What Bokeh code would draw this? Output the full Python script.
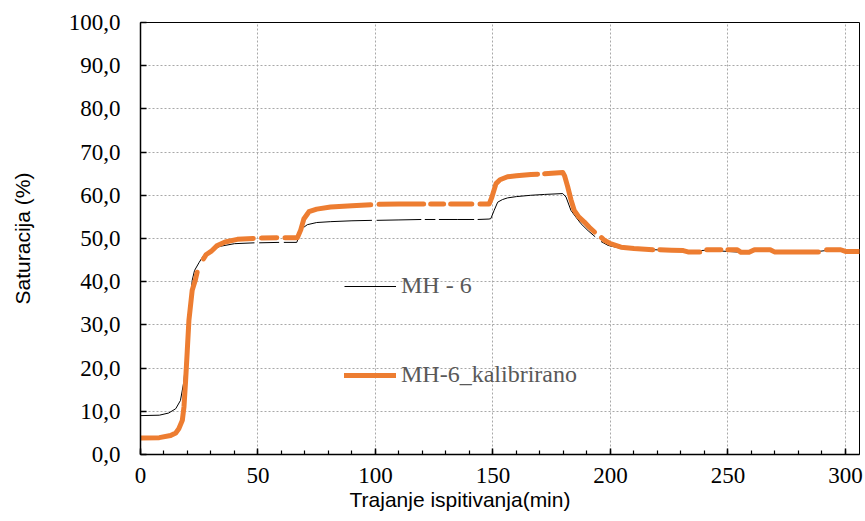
import numpy as np
from bokeh.plotting import figure
from bokeh.models import (Range1d, Legend, LegendItem, CustomJSTickFormatter,
                          SingleIntervalTicker, Title)
from bokeh.embed import file_html
from bokeh.resources import INLINE

N = np.nan

# MH - 6 (time in min, saturation in %), NaN = missing samples
t_mh6 = [0, 8, 12, 15, 17, 18.5, 19.5, 20.5, 22, 23, 25, 27, 30, 34, 40, 48.5, N,
         50.5, 59, N, 61, 66.5, 67.5, 69, 71, 75, 81, 90, 98.5, N,
         100.5, 110, 119.5, N, 121, 125.5, N, 127, 135, 142, N,
         143.5, 148.3, 149.1, 150.5, 152, 154, 156.2, 160, 166, 172, 179.7, 181.1, 183.2,
         185.5, 187.5, 190.5, 193.5, N,
         196, 199, 204.5, 210, 218, 226, 233, 241, 256, 262, 270, 287, 293, 301, 306]
s_mh6 = [9.0, 9.1, 9.6, 10.6, 12.5, 17.0, 24.0, 31.0, 40.3, 42.6, 44.5, 46.2, 47.4, 48.2, 48.8, 49.0, N,
         49.0, 49.1, N, 49.1, 49.1, 50.5, 52.4, 53.2, 53.7, 53.9, 54.1, 54.2, N,
         54.2, 54.3, 54.4, N, 54.4, 54.4, N, 54.4, 54.4, 54.4, N,
         54.4, 54.5, 54.6, 56.5, 58.4, 59.0, 59.4, 59.7, 60.0, 60.2, 60.4, 59.6, 56.5,
         54.8, 53.4, 51.8, 50.4, N,
         49.3, 48.4, 47.7, 47.5, 47.4, 47.3, 47.0, 47.3, 46.8, 47.3, 46.9, 46.9, 47.3, 47.0, 47.0]

# MH-6_kalibrirano
t_kal = [0, 8, 12.8, 15, 16.3, 17.8, 18.5, 19.2, 19.9, 20.6, 22, 23.4, 24.1, N,
         26.8, 28, 30, 32.7, 36, 41.2, 48, N, 51.5, 58, N,
         61.5, 66.8, 68.2, 69.5, 71.7, 75, 80.9, 90, 98, N,
         101.5, 110, 120.5, N, 123.5, 129, N, 132, 141, N,
         144.5, 148.4, 149.5, 151.3, 153, 156.2, 160, 166.2, 169, N,
         172, 179.7, 180.5, 181.8, 183.2, 184.6, 186.5, 188.9, 191, 193.2, N,
         196.2, 197.4, 200, 204.5, 210, 218, N, 221, 226, 231, 233, 238, N, 241, 247, N,
         250, 254, 255.6, 259, 261.3, 268, 269.8, 280, 288.5, N, 292, 298, 300, 306]
s_kal = [3.8, 3.9, 4.4, 5.0, 5.95, 7.9, 11.0, 17.1, 24.0, 31.0, 38.0, 40.5, 42.2, N,
         45.3, 46.3, 47.0, 48.4, 49.2, 49.8, 50.0, N, 50.1, 50.2, N,
         50.2, 50.2, 52.0, 54.5, 56.2, 56.8, 57.3, 57.6, 57.8, N,
         57.9, 58.0, 58.0, N, 58.0, 58.0, N, 58.0, 58.0, N,
         58.0, 58.0, 59.5, 62.7, 63.6, 64.3, 64.5, 64.8, 64.9, N,
         65.0, 65.3, 64.5, 62.0, 59.0, 56.5, 55.0, 53.8, 52.6, 51.5, N,
         50.2, 49.6, 48.8, 48.0, 47.7, 47.4, N, 47.4, 47.3, 47.2, 46.9, 46.9, N, 47.4, 47.4, N,
         47.4, 47.4, 46.8, 46.8, 47.4, 47.4, 46.9, 46.9, 46.9, N, 47.4, 47.4, 47.0, 47.0]

series_names = ["MH - 6", "MH-6_kalibrirano"]
x_title = "Trajanje ispitivanja(min)"
y_title = "Saturacija (%)"

p = figure(width=865, height=521, output_backend="svg", toolbar_location=None,
           x_range=Range1d(0, 306), y_range=Range1d(0, 100),
           min_border_left=140, min_border_right=6, min_border_top=22, min_border_bottom=67)
p.background_fill_color = "white"
p.border_fill_color = "white"
p.outline_line_color = "black"
p.outline_line_width = 1

r1 = p.line(t_mh6, s_mh6, line_color="black", line_width=1)
r2 = p.line(t_kal, s_kal, line_color="#ED7D31", line_width=5, line_cap="round", line_join="round")

# axes
p.xaxis.ticker = SingleIntervalTicker(interval=50, num_minor_ticks=5)
p.yaxis.ticker = SingleIntervalTicker(interval=10, num_minor_ticks=0)
p.yaxis.formatter = CustomJSTickFormatter(code="return tick.toFixed(1).replace('.', ',');")

for ax in (p.xaxis[0], p.yaxis[0]):
    ax.axis_line_color = "black"
    ax.axis_line_width = 1.5
    ax.major_tick_in = 6
    ax.major_tick_out = 0
    ax.major_tick_line_color = "black"
    ax.major_tick_line_width = 1.5
    ax.minor_tick_in = 4
    ax.minor_tick_out = 0
    ax.minor_tick_line_color = "black"
    ax.minor_tick_line_width = 1.2
    ax.major_label_text_font = "Liberation Serif"
    ax.major_label_text_font_size = "23px"
    ax.major_label_text_color = "black"

p.xaxis.major_label_standoff = 13
p.yaxis.major_label_standoff = 20

p.yaxis.axis_label = y_title
p.yaxis.axis_label_text_font = "Liberation Sans"
p.yaxis.axis_label_text_font_size = "21px"
p.yaxis.axis_label_text_font_style = "normal"
p.yaxis.axis_label_text_color = "black"
p.yaxis.axis_label_standoff = 32

xt = Title(text=x_title, align="left", offset=209, standoff=0,
           text_font="Liberation Sans", text_font_size="21px",
           text_font_style="normal", text_color="black")
p.add_layout(xt, "below")

# grid
p.xgrid.grid_line_color = "#a8a8a8"
p.xgrid.grid_line_dash = "2 2"
p.ygrid.grid_line_color = "#a8a8a8"
p.ygrid.grid_line_dash = "2 2"

legend = Legend(items=[LegendItem(label=series_names[0], renderers=[r1]),
                       LegendItem(label=series_names[1], renderers=[r2])],
                location=(204, 66))
legend.label_text_font = "Liberation Serif"
legend.label_text_font_size = "24px"
legend.label_text_color = "#595959"
legend.glyph_width = 52
legend.glyph_height = 20
legend.label_height = 20
legend.spacing = 62
legend.padding = 0
legend.margin = 0
legend.label_standoff = 5
legend.border_line_alpha = 0
legend.background_fill_alpha = 0
p.add_layout(legend)

open("out.html", "w").write(file_html(p, INLINE))
